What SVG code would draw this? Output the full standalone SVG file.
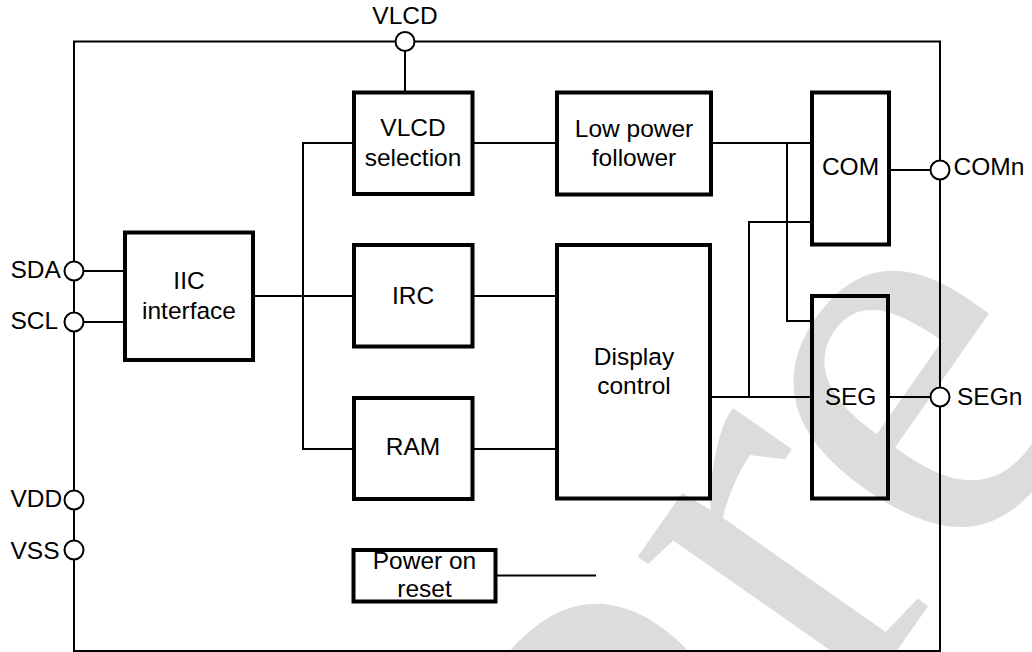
<svg xmlns="http://www.w3.org/2000/svg" width="1032" height="652" viewBox="0 0 1032 652">
<style>
.box{fill:none;stroke:#000;stroke-width:4}
.wire{fill:none;stroke:#000;stroke-width:2}
.pin{fill:#fff;stroke:#000;stroke-width:2}
.t{font-family:"Liberation Sans",Arial,sans-serif;font-size:24.5px;fill:#000}
.c{text-anchor:middle}
.wm{font-family:"Liberation Serif","Times New Roman",serif;font-size:580px;fill:#dcdcdc}
</style>
<rect width="1032" height="652" fill="#fff"/>
<g id="watermark">
<text class="wm" transform="translate(654,1001) rotate(-55)" x="11 343 518" y="59 -2 14">Pre</text>
</g>
<g id="chip-border">
<rect x="74" y="41.5" width="866" height="609.5" class="wire"/>
</g>
<g id="connectors">
<path class="wire" d="M405 51 V92"/>
<path class="wire" d="M354 143 H303 V449 H354"/>
<path class="wire" d="M253 296 H354"/>
<path class="wire" d="M472.5 143 H557"/>
<path class="wire" d="M711 143 H812"/>
<path class="wire" d="M787 143 V321 H812"/>
<path class="wire" d="M812 222 H749 V397"/>
<path class="wire" d="M710 397 H812"/>
<path class="wire" d="M472.5 296 H557"/>
<path class="wire" d="M472.5 449 H557"/>
<path class="wire" d="M889 170 H931"/>
<path class="wire" d="M888 397 H931"/>
<path class="wire" d="M83 271 H125"/>
<path class="wire" d="M83 322 H125"/>
<path class="wire" d="M495.5 575.5 H596"/>
</g>
<g id="node-vlcd-selection">
<rect class="box" x="354" y="92.5" width="118.5" height="101.5"/>
<text class="t c" x="413" y="136">VLCD</text>
<text class="t c" x="413" y="166">selection</text>
</g>
<g id="node-low-power-follower">
<rect class="box" x="557" y="92.5" width="154" height="102"/>
<text class="t c" x="634" y="137">Low power</text>
<text class="t c" x="634" y="166">follower</text>
</g>
<g id="node-com">
<rect class="box" x="812" y="92.5" width="77" height="152"/>
<text class="t c" x="850.5" y="175">COM</text>
</g>
<g id="node-iic-interface">
<rect class="box" x="125" y="232.5" width="128" height="127.5"/>
<text class="t c" x="189" y="289">IIC</text>
<text class="t c" x="189" y="319">interface</text>
</g>
<g id="node-irc">
<rect class="box" x="354" y="245" width="118.5" height="101.5"/>
<text class="t c" x="413" y="303.5">IRC</text>
</g>
<g id="node-ram">
<rect class="box" x="354" y="398" width="118.5" height="101"/>
<text class="t c" x="413" y="455">RAM</text>
</g>
<g id="node-display-control">
<rect class="box" x="557" y="245" width="153" height="253.5"/>
<text class="t c" x="634" y="365">Display</text>
<text class="t c" x="634" y="394">control</text>
</g>
<g id="node-seg">
<rect class="box" x="812" y="296" width="76" height="202.5"/>
<text class="t c" x="850.5" y="404.5">SEG</text>
</g>
<g id="node-power-on-reset">
<rect class="box" x="353.5" y="550" width="142" height="51.5"/>
<text class="t c" x="424.5" y="568.5">Power on</text>
<text class="t c" x="424.5" y="597">reset</text>
</g>
<g id="pin-vlcd">
<circle class="pin" cx="405" cy="41.5" r="9.5"/>
<text class="t c" x="405" y="23.5">VLCD</text>
</g>
<g id="pin-sda">
<circle class="pin" cx="74" cy="271" r="9.5"/>
<text class="t" x="10.5" y="277.5">SDA</text>
</g>
<g id="pin-scl">
<circle class="pin" cx="74" cy="322" r="9.5"/>
<text class="t" x="10.5" y="329">SCL</text>
</g>
<g id="pin-vdd">
<circle class="pin" cx="74" cy="500" r="9.5"/>
<text class="t" x="10.5" y="507">VDD</text>
</g>
<g id="pin-vss">
<circle class="pin" cx="74" cy="550" r="9.5"/>
<text class="t" x="10.5" y="558.5">VSS</text>
</g>
<g id="pin-comn">
<circle class="pin" cx="940" cy="170" r="9.5"/>
<text class="t" x="953.5" y="175">COMn</text>
</g>
<g id="pin-segn">
<circle class="pin" cx="940" cy="397" r="9.5"/>
<text class="t" x="957" y="404.5">SEGn</text>
</g>
</svg>
